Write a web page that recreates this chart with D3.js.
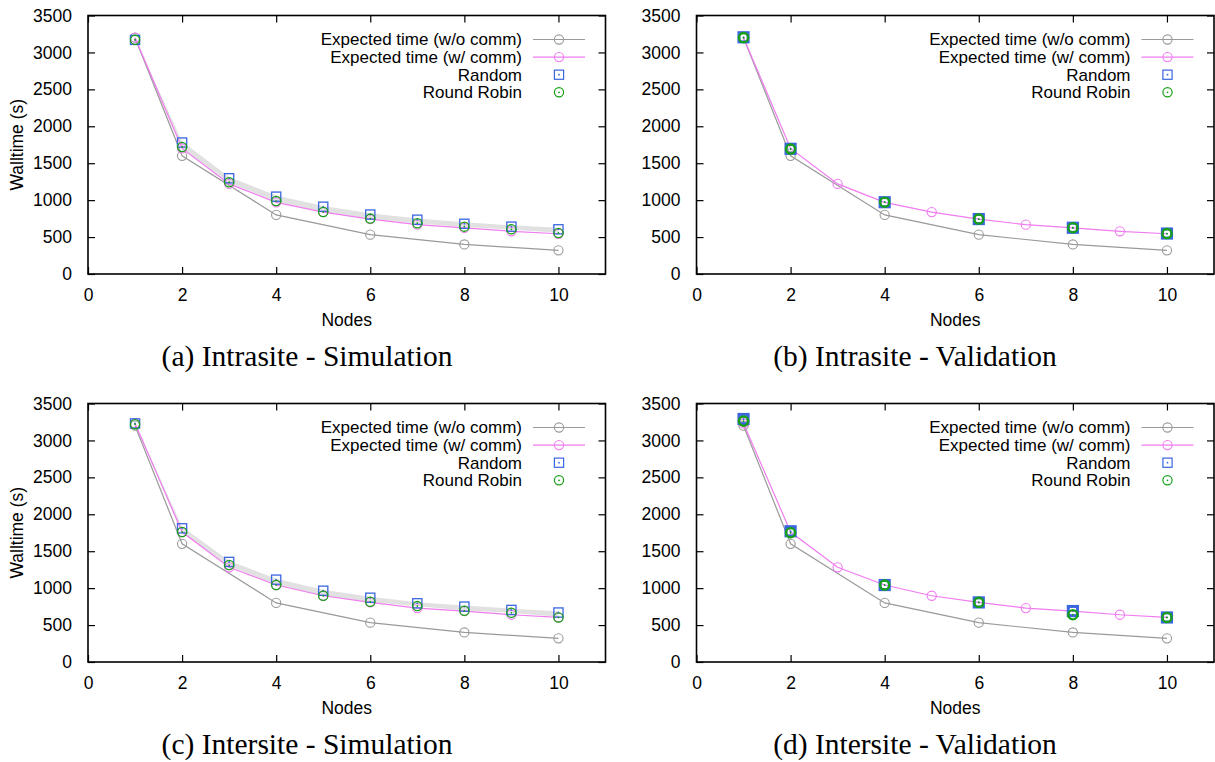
<!DOCTYPE html>
<html>
<head>
<meta charset="utf-8">
<script src="https://cdn.jsdelivr.net/npm/d3@7"></script>
<style>
  body { margin: 0; background: #fff; }
  svg text { font-family: "Liberation Sans", Arial, sans-serif; fill: #000; }
  .caption { font-family: "Liberation Serif", "Times New Roman", serif; }
</style>
</head>
<body>
<div id="chart"></div>
<script>
// node counts
var nodesAll = [1, 2, 3, 4, 5, 6, 7, 8, 9, 10];
var nodesEven = [1, 2, 4, 6, 8, 10];

// expected times
var expNoComm = [3200, 1600, 800, 533, 400, 320];           // on nodesEven
var expCommIntra = [3200, 1700, 1220, 970, 838, 742, 668, 624, 578, 545];
var expCommInter = [3230, 1760, 1282, 1042, 897, 807, 730, 690, 640, 605];

// (a) intrasite simulation
var randomA = [3170, 1780, 1296, 1047, 911, 805, 735, 680, 641, 605];
var rrA = [3170, 1720, 1242, 988, 840, 750, 688, 641, 605, 555];
var bandLoA = [3160, 1700, 1235, 980, 838, 748, 685, 638, 600, 558];
var bandHiA = [3200, 1795, 1315, 1062, 922, 822, 752, 700, 660, 625];

// (b) intrasite validation (nodesEven)
var randomB = [3205, 1695, 972, 744, 626, 548];
var rrB = [3200, 1692, 972, 744, 626, 548];

// (c) intersite simulation
var randomC = [3230, 1810, 1355, 1115, 965, 870, 795, 750, 705, 670];
var rrC = [3220, 1760, 1313, 1042, 897, 815, 757, 693, 666, 603];
var bandLoC = [3215, 1755, 1300, 1045, 898, 812, 755, 697, 665, 612];
var bandHiC = [3240, 1830, 1372, 1128, 978, 882, 808, 765, 722, 688];

// (d) intersite validation (nodesEven)
var randomD = [3290, 1770, 1042, 807, 690, 603];
var rrD = [3262, 1750, 1042, 807, 640, 603];

var legendLabels = ["Expected time (w/o comm)", "Expected time (w/ comm)", "Random", "Round Robin"];
var captions = ["(a) Intrasite - Simulation", "(b) Intrasite - Validation",
                "(c) Intersite - Simulation", "(d) Intersite - Validation"];
var yTicks = [0, 500, 1000, 1500, 2000, 2500, 3000, 3500];
var xTicks = [0, 2, 4, 6, 8, 10];

var colGray = "#9a9a9a", colMag = "#f07cf0", colBlue = "#3a66e0", colGreen = "#17a017", colBand = "#e1e1e1";

var svg = d3.select("#chart").append("svg")
    .attr("width", 1215)
    .attr("height", 762);

var panels = [
    { left: 88, top: 15.5, cap: 0, cx: 307, ylabel: true, exp: expCommIntra, rnd: randomA, rr: rrA, lo: bandLoA, hi: bandHiA },
    { left: 696.5, top: 15.5, cap: 1, cx: 915, ylabel: false, exp: expCommIntra, rnd: randomB, rr: rrB },
    { left: 88, top: 403.5, cap: 2, cx: 307, ylabel: true, exp: expCommInter, rnd: randomC, rr: rrC, lo: bandLoC, hi: bandHiC },
    { left: 696.5, top: 403.5, cap: 3, cx: 915, ylabel: false, exp: expCommInter, rnd: randomD, rr: rrD }
];

var W = 517.5, H = 258.5;

function circle(g, x, y, color, sw, dot) {
    g.append("circle").attr("cx", x).attr("cy", y).attr("r", 4.6)
        .attr("fill", "none").attr("stroke", color).attr("stroke-width", sw);
    if (dot) g.append("circle").attr("cx", x).attr("cy", y).attr("r", 0.9).attr("fill", color);
}
function square(g, x, y, color, sw, dot) {
    g.append("rect").attr("x", x - 4.6).attr("y", y - 4.6).attr("width", 9.2).attr("height", 9.2)
        .attr("fill", "none").attr("stroke", color).attr("stroke-width", sw);
    if (dot) g.append("circle").attr("cx", x).attr("cy", y).attr("r", 0.9).attr("fill", color);
}

panels.forEach(function(p) {
    var g = svg.append("g").attr("transform", "translate(" + p.left + "," + p.top + ")");
    var x = d3.scaleLinear().domain([0, 11]).range([0, W]);
    var y = d3.scaleLinear().domain([0, 3500]).range([H, 0]);
    var sim = !!p.lo;
    var nodesR = sim ? nodesAll : nodesEven;

    // band of random runs
    if (sim) {
        var area = d3.area()
            .x(function(d, i) { return x(nodesAll[i]); })
            .y0(function(d, i) { return y(p.lo[i]); })
            .y1(function(d) { return y(d); });
        g.append("path").datum(p.hi).attr("d", area).attr("fill", colBand);
    }

    var line = function(xs) {
        return d3.line().x(function(d, i) { return x(xs[i]); }).y(function(d) { return y(d); });
    };

    g.append("path").datum(expNoComm).attr("d", line(nodesEven))
        .attr("fill", "none").attr("stroke", colGray).attr("stroke-width", 1.2);
    g.append("path").datum(p.exp).attr("d", line(nodesAll))
        .attr("fill", "none").attr("stroke", colMag).attr("stroke-width", 1.2);

    expNoComm.forEach(function(v, i) { circle(g, x(nodesEven[i]), y(v), colGray, 1.1, false); });
    p.exp.forEach(function(v, i) { circle(g, x(nodesAll[i]), y(v), colMag, 1.1, false); });
    var sw = sim ? 1.3 : 3;
    p.rnd.forEach(function(v, i) { square(g, x(nodesR[i]), y(v), colBlue, sw, true); });
    p.rr.forEach(function(v, i) { circle(g, x(nodesR[i]), y(v), colGreen, sim ? 1.3 : 2.4, true); });

    // axes with inward and mirrored ticks
    g.append("g").attr("transform", "translate(0," + H + ")")
        .call(d3.axisBottom(x).tickValues(xTicks).tickSize(-7).tickPadding(15).tickFormat(d3.format("d")));
    g.append("g")
        .call(d3.axisTop(x).tickValues(xTicks).tickSize(-7).tickFormat(""));
    g.append("g")
        .call(d3.axisLeft(y).tickValues(yTicks).tickSize(-7).tickPadding(16).tickFormat(d3.format("d")));
    g.append("g").attr("transform", "translate(" + W + ",0)")
        .call(d3.axisRight(y).tickValues(yTicks).tickSize(-7).tickFormat(""));
    g.selectAll(".domain").remove();
    g.selectAll(".tick line").attr("stroke", "#000").attr("stroke-width", 1.2);
    g.selectAll(".tick text").style("font-size", "17.5px").attr("fill", "#000");

    g.append("rect").attr("width", W).attr("height", H)
        .attr("fill", "none").attr("stroke", "#000").attr("stroke-width", 1.6);

    // labels
    g.append("text").attr("x", W / 2).attr("y", H + 52)
        .attr("text-anchor", "middle").style("font-size", "17.5px").text("Nodes");
    if (p.ylabel) {
        g.append("text").attr("transform", "translate(" + (23 - p.left) + "," + (H / 2) + ") rotate(-90)")
            .attr("text-anchor", "middle").style("font-size", "17.5px").text("Walltime (s)");
    }

    // legend
    var lg = g.append("g").attr("transform", "translate(" + (W - 83.5) + ",24)");
    legendLabels.forEach(function(t, i) {
        var ly = i * 17.6;
        lg.append("text").attr("x", 0).attr("y", ly).attr("dy", "0.35em")
            .attr("text-anchor", "end").style("font-size", "17px").text(t);
        if (i < 2) {
            lg.append("line").attr("x1", 11).attr("x2", 63).attr("y1", ly).attr("y2", ly)
                .attr("stroke", i === 0 ? colGray : colMag).attr("stroke-width", 1.2);
            circle(lg, 37, ly, i === 0 ? colGray : colMag, 1.1, false);
        } else if (i === 2) {
            square(lg, 37, ly, colBlue, 1.2, true);
        } else {
            circle(lg, 37, ly, colGreen, 1.2, true);
        }
    });

    svg.append("text").attr("class", "caption")
        .attr("x", p.cx).attr("y", p.top + 350.5)
        .attr("text-anchor", "middle").style("font-size", "29.5px").text(captions[p.cap]);
});
</script>
</body>
</html>
